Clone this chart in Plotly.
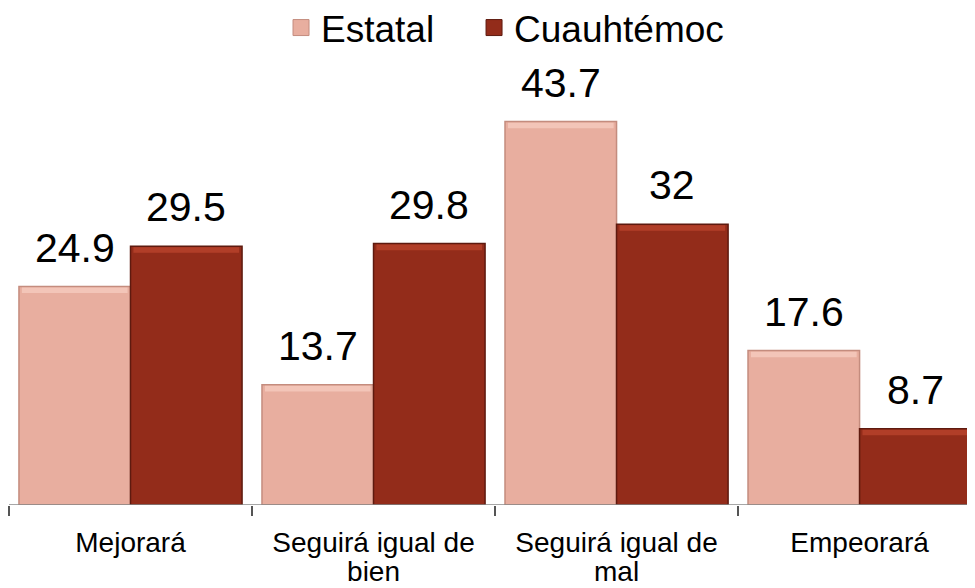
import plotly.graph_objects as go

categories = ["Mejorará", "Seguirá igual de<br>bien", "Seguirá igual de<br>mal", "Empeorará"]
series_names = ["Estatal", "Cuauhtémoc"]
estatal = [24.9, 13.7, 43.7, 17.6]
cuauhtemoc = [29.5, 29.8, 32, 8.7]
label_estatal = ["24.9", "13.7", "43.7", "17.6"]
label_cuauhtemoc = ["29.5", "29.8", "32", "8.7"]

colors = ["#E8AE9F", "#932C1A"]
edges = ["#C48C7E", "#5E1A0F"]
highlights = ["#F5CBBE", "#B9442C"]
FONT = "Liberation Sans, Arial, sans-serif"
BARGAP = 0.082

line1 = [c.split("<br>")[0] for c in categories]
line2 = [c.split("<br>")[1] if "<br>" in c else "" for c in categories]
pos = list(range(len(categories)))

fig = go.Figure()
for k, (name, vals, col, edge) in enumerate(zip(series_names, [estatal, cuauhtemoc], colors, edges)):
    fig.add_trace(go.Bar(
        name=name, x=pos, y=vals,
        marker=dict(color=col, line=dict(color=edge, width=1.5)),
        showlegend=False, hoverinfo="skip",
    ))
    fig.add_trace(go.Scatter(
        name=name, x=[None], y=[None], mode="markers",
        marker=dict(symbol="square", size=20, color=col, line=dict(color=edge, width=1)),
        showlegend=True, legend="legend" if k == 0 else "legend2",
    ))

half = (1 - BARGAP) / 4
annotations = []
shapes = []
for labels, vals, off, hl in [(label_estatal, estatal, -half, highlights[0]),
                              (label_cuauhtemoc, cuauhtemoc, half, highlights[1])]:
    for i, (lab, v) in enumerate(zip(labels, vals)):
        annotations.append(dict(
            x=i + off, y=v, xref="x", yref="y", text=lab, showarrow=False,
            yanchor="bottom", yshift=14, font=dict(size=41, color="black", family=FONT),
        ))
        # bevel highlight along the top edge of each bar
        shapes.append(dict(type="rect", xref="x", yref="y",
                           x0=i + off - half + 0.012, x1=i + off + half - 0.012,
                           y0=v - 0.75, y1=v - 0.12, fillcolor=hl, line=dict(width=0),
                           opacity=0.8, layer="above"))

tickfont = dict(size=28, family=FONT, color="black")
fig.update_layout(
    width=975, height=588,
    margin=dict(l=1, r=8, t=32, b=91, autoexpand=False),
    paper_bgcolor="white", plot_bgcolor="white",
    barmode="group", bargap=BARGAP, bargroupgap=0.0,
    font=dict(family=FONT, color="black"),
    legend=dict(orientation="h", x=0.2816, xanchor="left", y=1.0258, yanchor="middle",
                font=dict(size=37, family=FONT), bgcolor="rgba(0,0,0,0)"),
    legend2=dict(orientation="h", x=0.4814, xanchor="left", y=1.0258, yanchor="middle",
                 font=dict(size=37, family=FONT), bgcolor="rgba(0,0,0,0)"),
    annotations=annotations,
    shapes=shapes,
    xaxis=dict(
        tickmode="array", tickvals=pos, ticktext=line1,
        range=[-0.5, 3.475], showgrid=False, zeroline=False, automargin=False,
        showline=False, ticks="", ticklabelstandoff=18, tickfont=tickfont,
    ),
    xaxis2=dict(overlaying="x", matches="x", side="bottom", showgrid=False, automargin=False,
                tickmode="array", tickvals=[b - 0.5 for b in range(len(categories) + 1)],
                ticktext=[""] * (len(categories) + 1), ticks="outside", ticklen=10,
                tickcolor="#555555", tickwidth=1.5, zeroline=False, showline=False),
    xaxis3=dict(overlaying="x", matches="x", side="bottom", showgrid=False, automargin=False,
                tickmode="array", tickvals=pos, ticktext=line2, ticks="",
                ticklabelstandoff=47, tickfont=tickfont, zeroline=False, showline=False),
    yaxis=dict(range=[0, 53.0], visible=False),
)
fig.add_hline(y=0, line=dict(color="#8A8A8A", width=1.5))
fig.add_trace(go.Scatter(x=[None], y=[None], xaxis="x2", showlegend=False))
fig.add_trace(go.Scatter(x=[None], y=[None], xaxis="x3", showlegend=False))
fig.write_html("out.html")
